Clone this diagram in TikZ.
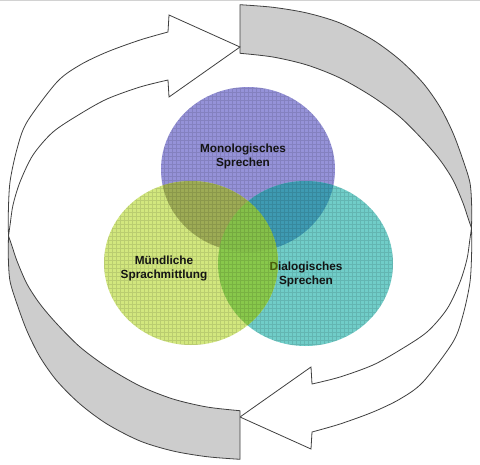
\documentclass[tikz,border=0pt]{standalone}
\usepackage{fontspec}
\setmainfont{Liberation Sans}
\usetikzlibrary{shapes.geometric}
\definecolor{purpleC}{HTML}{9592D8}
\definecolor{tealC}{HTML}{70CDC8}
\definecolor{greenC}{HTML}{D2E77E}
\definecolor{pgC}{HTML}{9DAB55}
\definecolor{ptC}{HTML}{3E9AB2}
\definecolor{gtC}{HTML}{88C84B}
\definecolor{pgtC}{HTML}{84C049}
\definecolor{faceC}{HTML}{CDCDCD}
\definecolor{edgeC}{HTML}{404040}
\definecolor{dC}{HTML}{4A5E0C}
\tikzset{
  backface/.style={fill=faceC, draw=edgeC, line width=0.8pt, line join=round},
  frontface/.style={fill=white, draw=edgeC, line width=0.8pt, line join=miter},
  label/.style={font=\bfseries\fontsize{11.8}{14}\selectfont, align=center, text=black!92, inner sep=0pt},
  gridline/.style={draw=black, draw opacity=0.11, line width=0.7pt}
}
\newcommand{\ellP}{(cP) ellipse [x radius=87, y radius=82.5]}
\newcommand{\ellT}{(cT) ellipse [x radius=87.5, y radius=82.5]}
\newcommand{\ellG}{(cG) ellipse [x radius=87, y radius=82]}
\newcommand{\ringarrow}{%
  \path[backface] plot[smooth] coordinates {(240,4.7) (273,7.3) (307,13) (340,23) (373,40) (400,60) (423,83) (440,107) (453,133) (463,160) (470,183) (471.7,207) (471.5,228)}
    -- plot[smooth] coordinates {(471.5,228) (468,218) (463,203) (453,180) (440,160) (423,140) (400,117) (373,97) (340,78) (307,65) (273,57) (240,53.3)} -- cycle;
  \path[frontface] plot[smooth] coordinates {(471.5,228) (471.7,250) (470,282) (463,315) (453,342) (423,382) (400,399) (373,412) (340,424) (312,432)}
    -- (311,449) -- (240,417) -- (311,367)
    -- plot[smooth] coordinates {(312,384) (340,377) (373,365) (400,350) (427,332) (447,309) (460,282) (467,259) (469.8,240) (471.5,228)} -- cycle;
}
\begin{document}
\begin{tikzpicture}[x=1pt, y=-1pt]
\useasboundingbox[fill=white] (0,0) rectangle (480,464);
\draw[gray!35, line width=0.8pt] (0,0.5) -- (480,0.5);
% ring arrows
\ringarrow
\begin{scope}[rotate around={180:(240,232)}]
\ringarrow
\end{scope}
% circle centres
\coordinate (cP) at (248,169.5);
\coordinate (cT) at (305.5,263.5);
\coordinate (cG) at (191,263);
% base fills
\fill[purpleC] \ellP;
\fill[tealC] \ellT;
\fill[greenC] \ellG;
\begin{scope}
  \clip \ellP;
  \fill[ptC] \ellT;
  \fill[pgC] \ellG;
\end{scope}
\begin{scope}
  \clip \ellT;
  \fill[gtC] \ellG;
  \clip \ellP;
  \fill[pgtC] \ellG;
\end{scope}
% grid texture
\begin{scope}
  \clip \ellP \ellT \ellG;
  \draw[gridline] (100,84) grid[step=4pt] (396,348);
\end{scope}
% labels
\node[label] (mono) at (243,156.5) {Monologisches\\Sprechen};
\node[label] (muend) at (164,268.5) {Mündliche\\Sprachmittlung};
\node[label] (dialog) at (306,274.5) {{\color{dC}D}ialogisches\\Sprechen};
\end{tikzpicture}
\end{document}
